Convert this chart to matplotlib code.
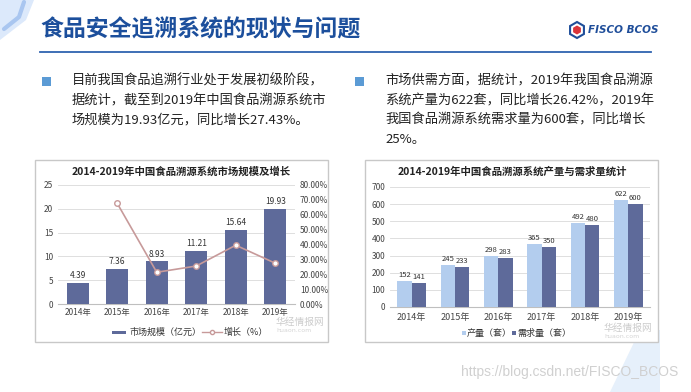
import matplotlib
matplotlib.use("Agg")
import matplotlib.pyplot as plt
from matplotlib.patches import Rectangle, Polygon, RegularPolygon
from matplotlib.ticker import FuncFormatter, MultipleLocator

plt.rcParams['font.family'] = ['Noto Sans CJK SC', 'DejaVu Sans']

W, H = 691, 392

# ---- data ----
years = ['2014年', '2015年', '2016年', '2017年', '2018年', '2019年']
market_size = [4.39, 7.36, 8.93, 11.21, 15.64, 19.93]
growth_years = ['2015年', '2016年', '2017年', '2018年', '2019年']
growth_pct = [67.65, 21.33, 25.53, 39.52, 27.43]
production = [152, 245, 298, 365, 492, 622]
demand = [141, 233, 283, 350, 480, 600]

title = '食品安全追溯系统的现状与问题'
bullet_left = ['目前我国食品追溯行业处于发展初级阶段，',
               '据统计，截至到2019年中国食品溯源系统市',
               '场规模为19.93亿元，同比增长27.43%。']
bullet_right = ['市场供需方面，据统计，2019年我国食品溯源',
                '系统产量为622套，同比增长26.42%，2019年',
                '我国食品溯源系统需求量为600套，同比增长',
                '25%。']
chart1_title = '2014-2019年中国食品溯源系统市场规模及增长'
chart2_title = '2014-2019年中国食品溯源系统产量与需求量统计'

fig = plt.figure(figsize=(W / 100, H / 100), dpi=100)
fig.patch.set_facecolor('white')


def fx(x):
    return x / W


def fy(y):
    return 1 - y / H


def axes_px(x0, y0, x1, y1):
    return fig.add_axes([fx(x0), fy(y1), (x1 - x0) / W, (y1 - y0) / H])


# ---- decorations ----
deco = fig.add_axes([0, 0, 1, 1], zorder=-5)
deco.set_xlim(0, W)
deco.set_ylim(H, 0)
deco.axis('off')
deco.add_patch(Polygon([[0, 0], [34, 0], [26, 20], [0, 40]], closed=True,
                       facecolor='#dce9fb', edgecolor='none'))
deco.plot([24, 19, 4], [2, 17, 29], color='#a9c6f0', lw=3, solid_capstyle='round')
deco.add_patch(Polygon([[610, 392], [640, 330], [660, 330], [660, 392]], closed=True,
                       facecolor='#e6f0fb', edgecolor='none'))
deco.add_patch(Rectangle((640, 335), 20, 57, facecolor='#e6f0fb', edgecolor='none'))

fig.text(fx(40), fy(30), title, fontsize=16.5, fontweight='bold', color='#1c4f9c',
         va='center', ha='left')
fig.add_artist(plt.Line2D([fx(40), fx(651)], [fy(52), fy(52)], color='#2f63b0', lw=1.3))
# logo
deco.add_patch(RegularPolygon((577, 30), 6, radius=8, facecolor='white',
                              edgecolor='#1f4e9a', lw=1.5))
deco.add_patch(RegularPolygon((577, 30), 6, radius=4.5, facecolor='#d9343a',
                              edgecolor='none'))
fig.text(fx(588), fy(30), 'FISCO BCOS', fontsize=7.5, fontstyle='italic', fontweight='bold',
         color='#1f4e9a', va='center', ha='left', family='DejaVu Sans')

# ---- bullets ----
fig.add_artist(Rectangle((fx(42), fy(86)), 9 / W, 9 / H, transform=fig.transFigure,
                         facecolor='#5b9bd5', edgecolor='none'))
for i, line in enumerate(bullet_left):
    fig.text(fx(72), fy(81 + i * 19.5), line, fontsize=9.5, color='#222222',
             va='center', ha='left')
fig.add_artist(Rectangle((fx(355), fy(86)), 9 / W, 9 / H, transform=fig.transFigure,
                         facecolor='#5b9bd5', edgecolor='none'))
for i, line in enumerate(bullet_right):
    fig.text(fx(385), fy(81 + i * 19.5), line, fontsize=9.5, color='#222222',
             va='center', ha='left')

# ---- chart boxes ----
for (x0, y0, x1, y1) in [(35, 160, 328, 342), (365, 160, 658, 342)]:
    fig.add_artist(Rectangle((fx(x0), fy(y1)), (x1 - x0) / W, (y1 - y0) / H,
                             transform=fig.transFigure, facecolor='white',
                             edgecolor='#c8c8c8', lw=1, zorder=-1))

tick_kw = dict(labelsize=6, colors='#444444')
bar_dark = '#5e6a9a'
bar_light = '#b3cdee'
line_col = '#c79a9a'

# ---- chart 1 ----
fig.text(fx(181), fy(172), chart1_title, fontsize=7.5, fontweight='bold',
         color='#222222', ha='center', va='center')
ax1 = axes_px(58, 185, 295, 304)
x = list(range(len(years)))
ax1.bar(x, market_size, width=0.55, color=bar_dark, zorder=3)
for xi, v in zip(x, market_size):
    ax1.text(xi, v + 0.6, f'{v:.2f}', ha='center', va='bottom', fontsize=6,
             color='#333333')
ax1.set_ylim(0, 25)
ax1.yaxis.set_major_locator(MultipleLocator(5))
ax1.set_xlim(-0.5, len(years) - 0.5)
ax1.set_xticks(x)
ax1.set_xticklabels(years)
ax1.tick_params(axis='both', length=0, **tick_kw)
ax1.tick_params(axis='x', pad=3)
ax1.grid(axis='y', color='#d9d9d9', lw=0.6, zorder=0)
for s in ['top', 'left', 'right']:
    ax1.spines[s].set_visible(False)
ax1.spines['bottom'].set_color('#bfbfbf')
ax2 = ax1.twinx()
gx = [years.index(y) for y in growth_years]
ax2.plot(gx, growth_pct, color=line_col, lw=1.2, marker='o', markersize=4,
         markerfacecolor='white', markeredgecolor=line_col, zorder=4)
ax2.set_ylim(0, 80)
ax2.yaxis.set_major_locator(MultipleLocator(10))
ax2.yaxis.set_major_formatter(FuncFormatter(lambda v, p: f'{v:.2f}%'))
ax2.tick_params(axis='y', length=0, **tick_kw)
for s in ['top', 'left', 'right', 'bottom']:
    ax2.spines[s].set_visible(False)

# legend 1
fig.add_artist(Rectangle((fx(112), fy(333.5)), 14 / W, 3 / H, transform=fig.transFigure,
                         facecolor=bar_dark, edgecolor='none'))
fig.text(fx(129), fy(332), '市场规模（亿元）', fontsize=6.5, color='#333333',
         ha='left', va='center')
fig.add_artist(plt.Line2D([fx(202), fx(222)], [fy(332), fy(332)], color=line_col, lw=1))
fig.add_artist(plt.Line2D([fx(212)], [fy(332)], color=line_col, marker='o',
                          markersize=3, markerfacecolor='white', lw=0))
fig.text(fx(224), fy(332), '增长（%）', fontsize=6.5, color='#333333',
         ha='left', va='center')

# ---- chart 2 ----
fig.text(fx(512), fy(172), chart2_title, fontsize=7.5, fontweight='bold',
         color='#222222', ha='center', va='center')
ax3 = axes_px(390, 187, 650, 307)
bw = 0.33
ax3.bar([xi - bw / 2 for xi in x], production, width=bw, color=bar_light, zorder=3)
ax3.bar([xi + bw / 2 for xi in x], demand, width=bw, color=bar_dark, zorder=3)
for xi, v in zip(x, production):
    ax3.text(xi - bw / 2, v + 12, str(v), ha='center', va='bottom', fontsize=5.5,
             color='#333333')
for xi, v in zip(x, demand):
    ax3.text(xi + bw / 2, v + 12, str(v), ha='center', va='bottom', fontsize=5.5,
             color='#333333')
ax3.set_ylim(0, 700)
ax3.yaxis.set_major_locator(MultipleLocator(100))
ax3.set_xlim(-0.5, len(years) - 0.5)
ax3.set_xticks(x)
ax3.set_xticklabels(years)
ax3.tick_params(axis='both', length=0, **tick_kw)
ax3.tick_params(axis='x', pad=4, labelsize=6.5)
ax3.grid(axis='y', color='#d9d9d9', lw=0.6, zorder=0)
for s in ['top', 'left', 'right']:
    ax3.spines[s].set_visible(False)
ax3.spines['bottom'].set_color('#bfbfbf')

fig.add_artist(Rectangle((fx(462), fy(335)), 4 / W, 4 / H, transform=fig.transFigure,
                         facecolor=bar_light, edgecolor='none'))
fig.text(fx(467), fy(333), '产量（套）', fontsize=6.5, color='#333333',
         ha='left', va='center')
fig.add_artist(Rectangle((fx(512), fy(335)), 4 / W, 4 / H, transform=fig.transFigure,
                         facecolor=bar_dark, edgecolor='none'))
fig.text(fx(517), fy(333), '需求量（套）', fontsize=6.5, color='#333333',
         ha='left', va='center')

# watermarks
for (wx, wy) in [(276, 325), (604, 331)]:
    deco.add_patch(Rectangle((wx - 12, wy - 7), 5, 12, facecolor='#cfe0f7',
                             edgecolor='none', zorder=10))
    deco.add_patch(Rectangle((wx - 7, wy - 7), 4, 12, facecolor='#f7efc8',
                             edgecolor='none', zorder=10))
    fig.text(fx(wx), fy(wy - 3), '华经情报网', fontsize=7, color='#cccccc', ha='left',
             va='center', zorder=10)
    fig.text(fx(wx), fy(wy + 5), 'huaon.com', fontsize=4.5, color='#d5d5d5', ha='left',
             va='center', zorder=10, family='DejaVu Sans')

fig.text(fx(678), fy(372), 'https://blog.csdn.net/FISCO_BCOS', fontsize=10,
         color='#d0d0d0', ha='right', va='center', family='Liberation Sans')

fig.savefig('out.png', dpi=100, facecolor='white')
